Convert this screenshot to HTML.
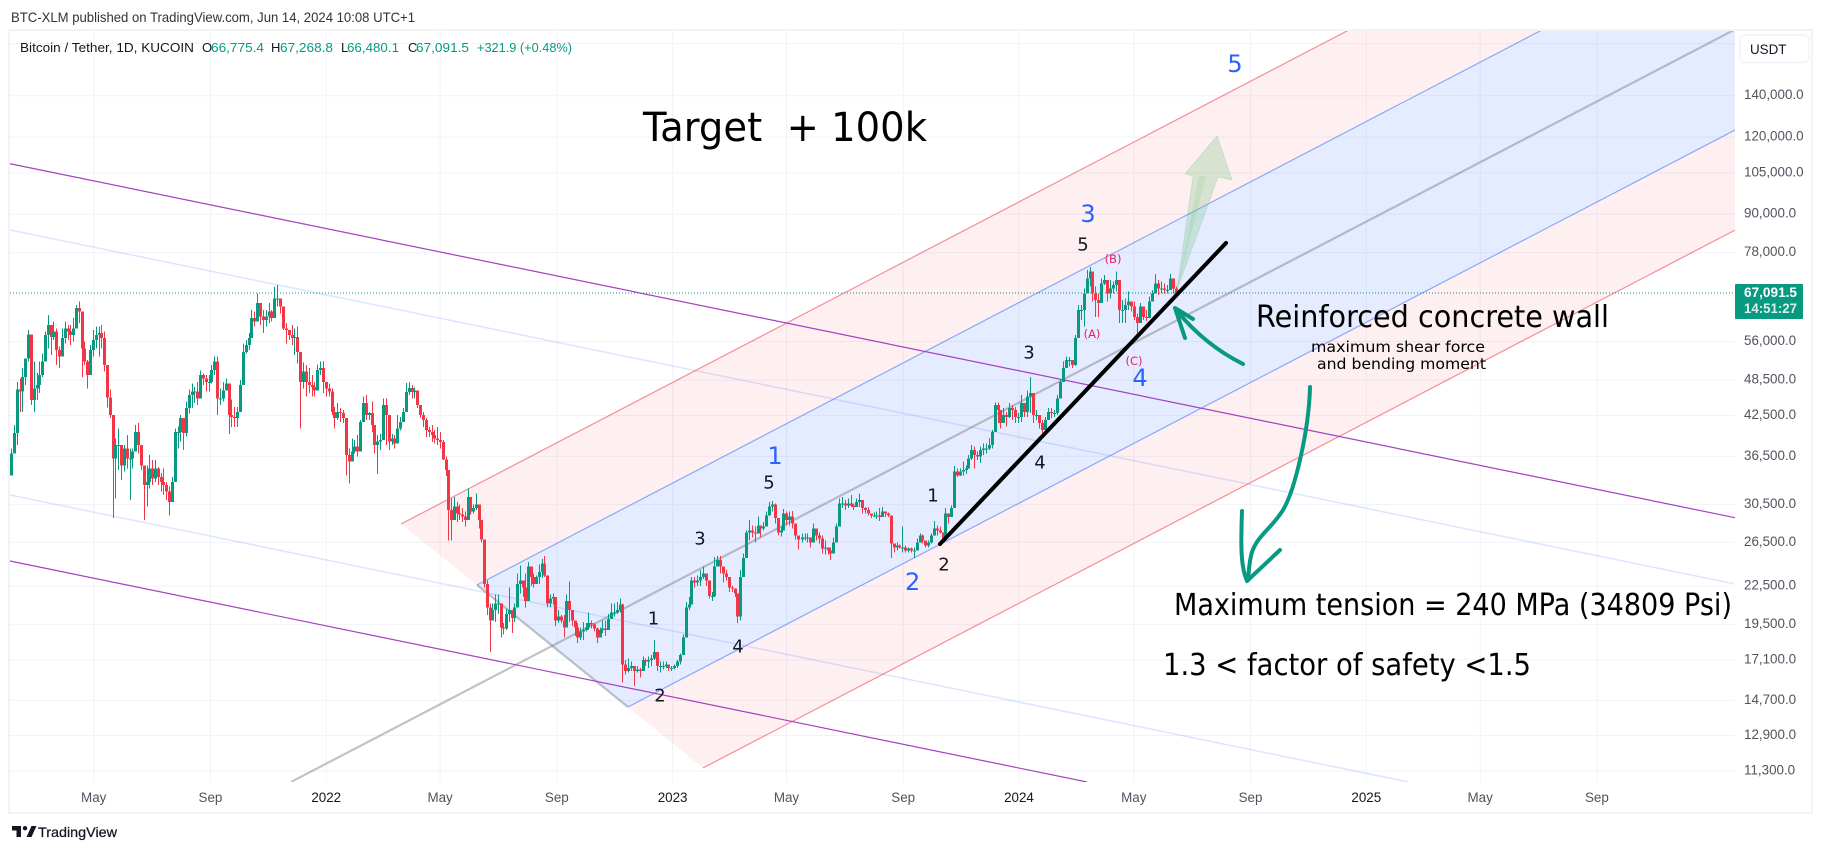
<!DOCTYPE html>
<html lang="en">
<head>
<meta charset="utf-8">
<title>BTC/USDT chart</title>
<style>
html,body{margin:0;padding:0;background:#fff;width:1824px;height:852px;overflow:hidden}
svg{display:block;font-family:"Liberation Sans",sans-serif}
.ann{font-family:"DejaVu Sans","Liberation Sans",sans-serif}
.axis{font-size:13.4px;fill:#50535e}
.num{font-family:"DejaVu Sans","Liberation Sans",sans-serif;font-size:18px;fill:#131722;text-anchor:middle;dominant-baseline:central}
.blue{font-family:"DejaVu Sans","Liberation Sans",sans-serif;font-size:24px;fill:#2962ff;text-anchor:middle;dominant-baseline:central}
.pink{font-family:"DejaVu Sans","Liberation Sans",sans-serif;font-size:11.5px;fill:#e91e63;text-anchor:middle;dominant-baseline:central}
</style>
</head>
<body>
<svg id="chart" xmlns="http://www.w3.org/2000/svg" width="1824" height="852" viewBox="0 0 1824 852">
  <defs><clipPath id="plot"><rect x="10" y="31" width="1725" height="751"/></clipPath></defs>

  <text x="11" y="22" font-size="14" fill="#333" textLength="404" lengthAdjust="spacingAndGlyphs">BTC-XLM published on TradingView.com, Jun 14, 2024 10:08 UTC+1</text>

  <rect x="9" y="30" width="1803" height="783" fill="#fff" stroke="#f0f3fa" stroke-width="2"/>

  <g id="grid"></g>

  <g clip-path="url(#plot)">
    <g>
      <polygon points="401,524 477,585 1977,-196.8 1901,-257.8" fill="rgba(242,54,69,.08)"/>
      <polygon points="477,585 628,707 2128,-74.8 1977,-196.8" fill="rgba(41,98,255,.12)"/>
      <polygon points="628,707 703,768 2203,-13.8 2128,-74.8" fill="rgba(242,54,69,.08)"/>
      <line x1="401" y1="524" x2="1901" y2="-257.8" stroke="rgba(242,54,69,.55)" stroke-width="1.2"/>
      <line x1="703" y1="768" x2="2203" y2="-13.8" stroke="rgba(242,54,69,.55)" stroke-width="1.2"/>
      <line x1="477" y1="585" x2="1977" y2="-196.8" stroke="rgba(41,98,255,.5)" stroke-width="1.2"/>
      <line x1="628" y1="707" x2="2128" y2="-74.8" stroke="rgba(41,98,255,.5)" stroke-width="1.2"/>
      <line x1="291" y1="782" x2="1752" y2="20.6" stroke="rgba(120,123,134,.45)" stroke-width="2.2"/>
      <line x1="477" y1="585" x2="628" y2="707" stroke="rgba(120,123,134,.45)" stroke-width="2.2"/>
    </g>
    <g>
      <line x1="10" y1="163.7" x2="1735" y2="517.7" stroke="#a63fc0" stroke-width="1.2"/>
      <line x1="10" y1="230" x2="1735" y2="584" stroke="rgba(41,98,255,.16)" stroke-width="1.5"/>
      <line x1="10" y1="495" x2="1408.6" y2="782" stroke="rgba(41,98,255,.16)" stroke-width="1.5"/>
      <line x1="10" y1="561" x2="1087" y2="782" stroke="#a63fc0" stroke-width="1.2"/>
    </g>
    <line x1="10" y1="293" x2="1735" y2="293" stroke="#089981" stroke-width="1" stroke-dasharray="1 2"/>
    <g id="candles"></g>

    <polygon points="1177,290 1193,176 1185,174 1217,136 1232,180 1218,177" fill="rgba(100,190,110,.25)" stroke="rgba(100,190,110,.22)" stroke-width="1"/>
    <polygon points="1177,290 1199,176 1206,176" fill="rgba(100,190,110,.15)"/>
    <line x1="940" y1="544" x2="1226" y2="243" stroke="#000" stroke-width="4" stroke-linecap="round"/>

    <path d="M1243,364 Q1205,345 1177,311 M1185,338 L1175,308 L1193,319" fill="none" stroke="#089981" stroke-width="4" stroke-linecap="round" stroke-linejoin="round"/>
    <path d="M1310,387 C1309,430 1295,490 1283,510 C1272,528 1258,535 1252,552 C1249,562 1249,570 1248,580 M1242,511 C1241,540 1240,565 1247,581 L1280,550" fill="none" stroke="#089981" stroke-width="4" stroke-linecap="round" stroke-linejoin="round"/>
  </g>

  <g font-size="13">
    <text x="20" y="52" fill="#131722" textLength="174" lengthAdjust="spacingAndGlyphs">Bitcoin / Tether, 1D, KUCOIN</text>
    <text x="202" y="52" fill="#131722">O</text>
    <text x="211" y="52" fill="#089981" textLength="53" lengthAdjust="spacingAndGlyphs">66,775.4</text>
    <text x="271" y="52" fill="#131722">H</text>
    <text x="280" y="52" fill="#089981" textLength="53" lengthAdjust="spacingAndGlyphs">67,268.8</text>
    <text x="341" y="52" fill="#131722">L</text>
    <text x="347" y="52" fill="#089981" textLength="52" lengthAdjust="spacingAndGlyphs">66,480.1</text>
    <text x="408" y="52" fill="#131722">C</text>
    <text x="416" y="52" fill="#089981" textLength="53" lengthAdjust="spacingAndGlyphs">67,091.5</text>
    <text x="477" y="52" fill="#089981" textLength="95" lengthAdjust="spacingAndGlyphs">+321.9 (+0.48%)</text>
  </g>

  <g>
    <text class="blue" x="1235" y="64">5</text>
    <text class="blue" x="1088" y="214">3</text>
    <text class="blue" x="1140" y="378">4</text>
    <text class="blue" x="912.6" y="582">2</text>
    <text class="blue" x="775" y="456">1</text>
    <text class="num" x="1083" y="245">5</text>
    <text class="num" x="1029" y="353">3</text>
    <text class="num" x="1040" y="463">4</text>
    <text class="num" x="933" y="496">1</text>
    <text class="num" x="944" y="565">2</text>
    <text class="num" x="769" y="483">5</text>
    <text class="num" x="700" y="539">3</text>
    <text class="num" x="653.5" y="619">1</text>
    <text class="num" x="738" y="647">4</text>
    <text class="num" x="660" y="696">2</text>
    <text class="pink" x="1113" y="259">(B)</text>
    <text class="pink" x="1092" y="334">(A)</text>
    <text class="pink" x="1134" y="361">(C)</text>
  </g>

  <g class="ann" fill="#000">
    <text x="643" y="141" font-size="40" textLength="284" lengthAdjust="spacingAndGlyphs">Target&#160;&#160;+ 100k</text>
    <text x="1256" y="327" font-size="30" textLength="353" lengthAdjust="spacingAndGlyphs">Reinforced concrete wall</text>
    <text x="1311" y="352" font-size="15" textLength="174" lengthAdjust="spacingAndGlyphs">maximum shear force</text>
    <text x="1317" y="369" font-size="15" textLength="169" lengthAdjust="spacingAndGlyphs">and bending moment</text>
    <text x="1174" y="615" font-size="30" textLength="558" lengthAdjust="spacingAndGlyphs">Maximum tension = 240 MPa (34809 Psi)</text>
    <text x="1163" y="675" font-size="30" textLength="368" lengthAdjust="spacingAndGlyphs">1.3 &lt; factor of safety &lt;1.5</text>
  </g>

  <g>
    <rect x="1735" y="31" width="76" height="751" fill="#fff"/>
    <g id="priceLabels"></g>
    <rect x="1740" y="35" width="69" height="27.5" rx="5" fill="#fff" stroke="#f0f3fa" stroke-width="1.5"/>
    <text x="1750" y="54" font-size="13.4" fill="#131722">USDT</text>
    <rect x="1735" y="284" width="68" height="35" rx="1" fill="#089981"/>
    <text x="1744" y="297" font-size="13.4" font-weight="bold" fill="#fff" textLength="53" lengthAdjust="spacingAndGlyphs">67,091.5</text>
    <text x="1744" y="313" font-size="13.4" font-weight="bold" fill="#fff" fill-opacity=".85" textLength="53" lengthAdjust="spacingAndGlyphs">14:51:27</text>
  </g>
  <g id="timeLabels"></g>

  <g>
    <path d="M12,826 h9 v11 h-4.5 v-6.5 h-4.5 z M26.5,837 l5,-11 h5 l-5,11 z" fill="#131722"/>
    <circle cx="25" cy="828.2" r="2.2" fill="#131722"/>
    <text x="38" y="837" font-size="14" fill="#131722" stroke="#131722" stroke-width=".25" textLength="79" lengthAdjust="spacingAndGlyphs">TradingView</text>
  </g>
</svg>

<script>
// Prices are in hundreds of USD, one bar for roughly every three days.
const highs = [
376,410,482,488,507,526,585,543,520,498,
520,536,581,618,588,603,588,550,588,603,
596,596,611,642,650,578,560,523,553,585,
592,592,596,581,513,468,423,390,405,381,
381,395,376,376,410,413,376,349,353,367,
360,360,351,343,349,332,326,338,405,408,
426,405,448,468,479,473,482,503,497,494,
494,513,530,530,470,482,488,439,451,439,
439,485,556,563,578,630,626,670,638,630,
630,646,630,687,691,658,638,600,581,596,
588,592,539,518,513,507,494,482,514,520,
521,482,479,470,439,445,437,434,412,376,
390,388,395,418,456,459,431,448,400,395,
397,453,453,395,397,395,426,423,437,480,
482,476,472,455,442,431,421,407,410,403,
407,400,388,365,339,312,314,308,305,301,
297,324,306,305,318,305,288,268,230,211,
211,218,218,211,196,207,224,202,211,236,
243,230,236,246,236,236,234,244,249,252,
234,218,219,204,206,202,202,218,229,203,
197,196,193,197,196,204,198,196,193,193,198,198,203,
211,211,212,215,211,171,172,170,167,167,
166,173,172,173,174,184,176,170,170,170,
168,167,168,171,175,188,212,216,233,233,
234,239,242,236,227,220,251,252,252,242,
239,227,225,223,217,239,254,277,288,282,
281,292,282,286,297,308,309,306,281,281,
300,297,297,298,279,272,274,274,274,269,
284,279,275,272,267,260,260,270,284,312,
314,310,312,316,306,312,318,304,302,302,
295,296,297,301,302,297,296,292,264,265,
263,281,262,260,260,260,269,274,273,265,
267,274,287,282,281,272,301,293,304,352,
349,349,358,353,367,381,379,372,379,383,
383,391,403,446,446,434,437,431,445,442,
439,429,459,445,467,491,434,434,423,418,
423,437,437,434,459,485,520,530,529,520,
574,642,642,683,731,740,704,687,670,708,
718,704,704,700,727,675,654,658,675,646,
650,622,646,630,630,662,679,720,704,700,
695,691,720,704,687];
const lows = [
353,374,381,431,431,476,520,442,431,450,
462,491,530,546,533,563,513,507,546,556,
563,553,560,592,600,491,513,470,526,530,
546,530,546,501,438,421,290,312,347,334,
345,349,310,349,372,369,347,288,303,324,
328,332,328,320,316,310,293,318,353,376,
386,374,393,428,437,445,442,465,476,465,
465,479,494,426,442,448,467,397,407,407,
407,470,501,536,543,570,592,618,596,578,
592,600,603,626,638,622,585,556,563,553,
533,516,405,470,456,462,456,456,479,494,
462,456,456,426,405,418,415,413,340,330,
358,369,365,372,426,418,418,400,369,342,
374,400,381,374,381,376,388,402,415,453,
459,453,453,437,421,407,392,392,385,383,
381,376,360,339,267,267,288,286,288,286,
281,292,294,295,299,279,265,224,202,176,
198,197,203,186,188,191,197,189,197,208,
219,216,208,233,225,224,227,227,232,233,
208,208,210,194,196,196,186,198,197,194,
187,182,184,184,190,191,192,190,182,190,189,187,192,
201,201,203,204,157,162,163,164,155,163,
160,167,167,166,167,171,164,163,165,166,
164,164,165,166,168,174,186,206,211,224,
225,225,231,225,215,213,216,242,236,228,
230,220,220,216,196,198,240,250,267,270,
265,274,270,277,281,297,297,284,272,271,
282,282,282,279,268,258,265,267,265,260,
267,267,264,254,253,253,248,260,269,284,
301,299,301,302,299,302,302,295,295,293,
290,291,289,287,293,291,291,250,255,257,
259,255,255,255,255,250,260,265,264,260,
260,264,272,272,274,265,272,284,291,302,
338,339,340,342,353,360,349,360,356,367,
369,374,376,403,413,405,413,408,421,418,
413,413,415,423,423,429,413,418,405,395,
400,418,421,423,426,456,485,507,510,507,
511,574,607,592,670,687,650,614,614,654,
691,650,658,670,675,600,600,600,630,626,
607,569,600,607,604,611,650,670,666,670,
670,670,679,670,666];
const closes = [
369,398,468,465,491,526,575,450,470,476,
494,520,574,596,570,581,543,530,567,588,
581,574,588,634,626,546,520,494,543,563,
574,578,567,513,455,426,362,381,381,353,
376,362,362,372,400,381,353,328,332,349,
336,349,338,332,328,320,308,332,400,400,
421,398,437,459,465,465,453,494,488,482,
482,504,520,453,453,467,479,426,423,421,
431,476,539,553,567,611,603,646,615,607,
615,626,611,658,658,638,588,585,574,567,
570,539,482,501,482,476,473,467,504,507,
482,470,465,431,421,431,429,421,367,358,
372,379,372,415,445,426,429,410,381,386,
388,442,426,386,390,383,405,415,431,464,
471,464,467,442,426,418,403,400,395,390,
388,385,361,347,299,288,303,295,294,292,
288,314,297,301,305,288,268,227,208,198,
206,211,211,193,192,203,206,200,208,227,
230,224,213,242,233,227,233,237,245,234,
211,215,216,198,201,198,193,213,206,198,
193,186,190,191,193,196,195,192,186,191,192,191,199,
204,204,206,210,168,164,166,167,164,165,
164,171,170,171,172,176,167,167,167,168,
166,166,167,170,174,186,208,210,230,228,
230,233,236,230,217,217,242,248,242,236,
233,224,223,219,201,233,250,275,277,275,
274,282,279,281,293,303,305,290,275,277,
295,288,292,284,272,268,270,270,270,265,
279,272,269,259,260,257,254,265,281,306,
306,304,306,304,302,308,310,301,299,295,
293,293,293,291,297,295,293,264,260,262,
260,260,257,259,257,257,265,272,267,262,
265,272,279,277,275,269,295,291,301,345,
340,345,347,349,362,374,367,365,374,376,
376,381,400,442,434,413,426,423,437,434,
423,423,445,431,456,462,426,426,413,403,
418,431,429,429,453,482,507,523,523,513,
567,630,630,670,708,727,670,654,646,695,
704,670,683,691,704,630,630,642,650,638,
614,600,638,614,611,650,670,695,683,683,
679,679,708,683,671];
const firstOpen = 340;
// Calendar date of selected bars; bars in between are spread evenly in time.
const anchorBars = [0,70,139,152,207,211,278,279,344,407];
const anchorDates = ["2021-02-03","2021-08-30","2022-03-26","2022-05-04","2022-10-10","2022-10-22","2023-05-13","2023-05-17","2023-11-30","2024-06-14"];
const priceTicks = [170000,140000,120000,105000,90000,78000,56000,48500,42500,36500,30500,26500,22500,19500,17100,14700,12900,11300];
const priceTickLabels = ["","140,000.0","120,000.0","105,000.0","90,000.0","78,000.0","56,000.0","48,500.0","42,500.0","36,500.0","30,500.0","26,500.0","22,500.0","19,500.0","17,100.0","14,700.0","12,900.0","11,300.0"];
const timeTickDates = ["2021-05-01","2021-09-01","2022-01-01","2022-05-01","2022-09-01","2023-01-01","2023-05-01","2023-09-01","2024-01-01","2024-05-01","2024-09-01","2025-01-01","2025-05-01","2025-09-01"];
const timeTickLabels = ["May","Sep","2022","May","Sep","2023","May","Sep","2024","May","Sep","2025","May","Sep"];

const NS = "http://www.w3.org/2000/svg";
const dayMs = 86400000;
const refDay = Date.UTC(2023, 0, 1);
function dayOf(s) { return (Date.parse(s + "T00:00:00Z") - refDay) / dayMs; }
function xOfDay(d) { return 672.6 + d * 0.949; }
function yOfPrice(p) { return 95.7 + 268.3 * Math.log(140000 / p); }
function barDay(i) {
  for (let s = 0; s < anchorBars.length - 1; s++) {
    if (i <= anchorBars[s + 1]) {
      const d0 = dayOf(anchorDates[s]);
      const d1 = dayOf(anchorDates[s + 1]);
      return d0 + (d1 - d0) * (i - anchorBars[s]) / (anchorBars[s + 1] - anchorBars[s]);
    }
  }
  return dayOf(anchorDates[anchorDates.length - 1]);
}
function mk(tag, parent, attrs) {
  const el = document.createElementNS(NS, tag);
  for (const k in attrs) el.setAttribute(k, attrs[k]);
  parent.appendChild(el);
  return el;
}

const grid = document.getElementById("grid");
const priceLabels = document.getElementById("priceLabels");
const timeLabels = document.getElementById("timeLabels");
const candles = document.getElementById("candles");

priceTicks.forEach(function (p, i) {
  const y = yOfPrice(p);
  const line = mk("line", grid, {x1: 10, x2: 1735, y1: y, y2: y, stroke: "#f0f3fa", "stroke-width": 1});
  
  
  if (priceTickLabels[i]) {
    const t = mk("text", priceLabels, {x: 1744, y: y + 3.5, "class": "axis"});
    
    
    t.textContent = priceTickLabels[i];
  }
});

timeTickDates.forEach(function (d, i) {
  const x = xOfDay(dayOf(d));
  const line = mk("line", grid, {x1: x, x2: x, y1: 31, y2: 782, stroke: "#f0f3fa", "stroke-width": 1});
  
  
  const t = mk("text", timeLabels, {x: x, y: 802, "text-anchor": "middle", "class": "axis"});
  
  
  t.style.fill = /^\d+$/.test(timeTickLabels[i]) ? "#131722" : "#50535e";
  t.textContent = timeTickLabels[i];
});

const barCount = Math.min(highs.length, lows.length, closes.length);
for (let i = 0; i < barCount; i++) {
  const x = Math.round(xOfDay(barDay(i)));
  const open = (i === 0 ? firstOpen : closes[i - 1]) * 100;
  const close = closes[i] * 100;
  const color = close >= open ? "#089981" : "#f23645";
  const yH = yOfPrice(highs[i] * 100);
  const yL = yOfPrice(lows[i] * 100);
  const yO = yOfPrice(open);
  const yC = yOfPrice(close);
  const wick = mk("rect", candles, {x: x, y: yH, width: 1, height: Math.max(1, yL - yH), fill: color, "shape-rendering": "crispEdges"});
  
  
  const body = mk("rect", candles, {x: x - 1, y: Math.min(yO, yC), width: 3, height: Math.max(1, Math.abs(yC - yO)), fill: color, "shape-rendering": "crispEdges"});
  
  
}
</script>
</body>
</html>
